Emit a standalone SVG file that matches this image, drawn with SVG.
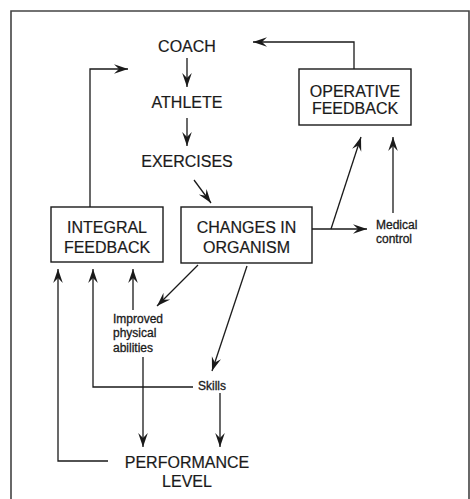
<svg xmlns="http://www.w3.org/2000/svg" width="470" height="499" viewBox="0 0 470 499">
<style>
.big{font-family:"Liberation Sans",Arial,sans-serif;font-size:16px;fill:#1a1a1a;text-anchor:middle;stroke:#1a1a1a;stroke-width:0.2}
.small{font-family:"Liberation Sans",Arial,sans-serif;font-size:12px;fill:#1a1a1a;stroke:#1a1a1a;stroke-width:0.3}
.box{fill:#fff;stroke:#1a1a1a;stroke-width:1.4}
.ln{fill:none;stroke:#1a1a1a;stroke-width:1.3;marker-end:url(#ah)}
</style>
<defs>
<marker id="ah" markerUnits="userSpaceOnUse" markerWidth="16" markerHeight="12" viewBox="-14 -6 16 12" refX="0" refY="0" orient="auto">
<path d="M0,0 L-14,-4.8 L-9,0 L-14,4.8 Z" fill="#1a1a1a"/>
</marker>
</defs>
<rect width="470" height="499" fill="#fff"/>
<path d="M11,510 V11 H469 V510" fill="none" stroke="#444" stroke-width="1.6"/>

<g id="connectors">
<line class="ln" x1="187" y1="58" x2="187" y2="87"/>
<line class="ln" x1="187" y1="118" x2="187" y2="146"/>
<line class="ln" x1="194" y1="180" x2="211" y2="203"/>
<polyline class="ln" points="90,207 90,69 128,69"/>
<polyline class="ln" points="354,69 354,42 253,42"/>
<line class="ln" x1="312" y1="229" x2="367" y2="229"/>
<line class="ln" x1="331" y1="229" x2="361" y2="137"/>
<line class="ln" x1="393" y1="213" x2="393" y2="137"/>
<line class="ln" x1="198" y1="265" x2="157" y2="306"/>
<line class="ln" x1="247" y1="266" x2="212" y2="371"/>
<line class="ln" x1="133" y1="310" x2="133" y2="269"/>
<polyline class="ln" points="193,387 93,387 93,269"/>
<polyline class="ln" points="108,461 58,461 58,269"/>
<line class="ln" x1="143" y1="357" x2="143" y2="447"/>
<line class="ln" x1="220" y1="393" x2="220" y2="447"/>
</g>

<g id="coach"><text class="big" x="187" y="52">COACH</text></g>
<g id="athlete"><text class="big" x="187" y="108">ATHLETE</text></g>
<g id="exercises"><text class="big" x="187" y="167">EXERCISES</text></g>
<g id="operative-feedback">
<rect class="box" x="299" y="69" width="112" height="56"/>
<text class="big" x="355" y="97">OPERATIVE</text>
<text class="big" x="355" y="114">FEEDBACK</text>
</g>
<g id="integral-feedback">
<rect class="box" x="51" y="207" width="112" height="55"/>
<text class="big" x="107" y="233">INTEGRAL</text>
<text class="big" x="107" y="253">FEEDBACK</text>
</g>
<g id="changes-in-organism">
<rect class="box" x="181" y="207" width="131" height="56"/>
<text class="big" x="246.5" y="233">CHANGES IN</text>
<text class="big" x="246.5" y="253">ORGANISM</text>
</g>
<g id="medical-control">
<text class="small" x="376" y="229">Medical</text>
<text class="small" x="376" y="243">control</text>
</g>
<g id="improved-physical-abilities">
<text class="small" x="113" y="323">Improved</text>
<text class="small" x="113" y="337">physical</text>
<text class="small" x="113" y="352">abilities</text>
</g>
<g id="skills"><text class="small" x="198" y="390">Skills</text></g>
<g id="performance-level">
<text class="big" x="187" y="468">PERFORMANCE</text>
<text class="big" x="187" y="487">LEVEL</text>
</g>
</svg>
